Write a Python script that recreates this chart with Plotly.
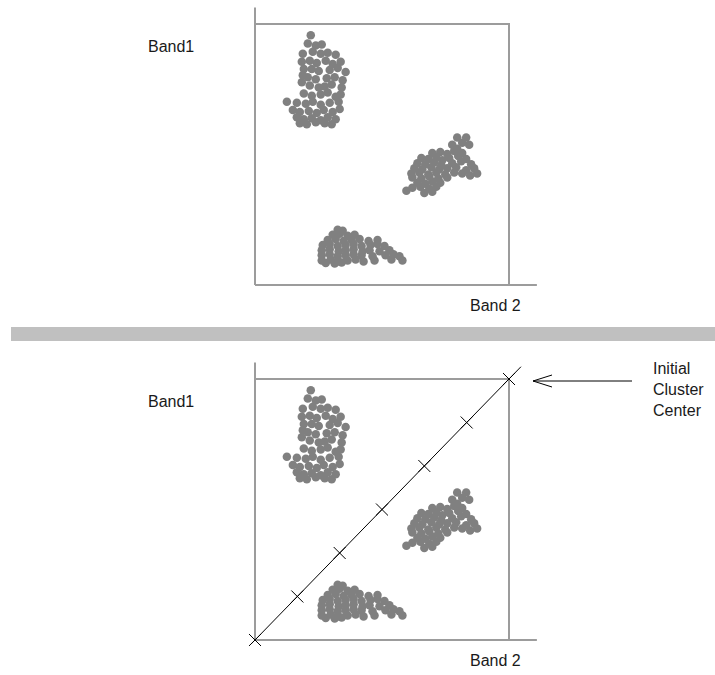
import plotly.graph_objects as go

# ---------------- data (Band 2 = x, Band1 = y, 0..255 scale) ----------------
cluster_a_band2 = [56, 53, 61, 67, 48, 47, 49, 48, 47, 58, 66, 73, 81, 55, 62, 71, 78, 86,
                   57, 64, 75, 83, 91, 53, 61, 72, 80, 88, 55, 64, 70, 77, 87,
                   49, 57, 66, 73, 81, 86, 32, 42, 51, 58, 66, 75, 84,
                   38, 45, 54, 62, 69, 78, 85, 42, 49, 57, 66, 73, 81, 45, 52, 61, 70, 77]
cluster_a_band1 = [244, 236, 234, 235, 226, 218, 211, 205, 198, 228, 226, 227, 225,
                   219, 217, 219, 216, 218, 211, 209, 210, 212, 208,
                   203, 201, 202, 203, 200, 195, 193, 194, 196, 193,
                   187, 185, 186, 188, 184, 186, 179, 178, 177, 179, 176, 178, 179,
                   171, 169, 170, 168, 171, 169, 172, 164, 162, 163, 161, 164, 162,
                   158, 157, 159, 158, 157]

cluster_b_band2 = [203, 212, 208, 215, 198, 203, 178, 186, 193, 200, 208,
                   167, 174, 182, 188, 195, 204, 212, 163, 171, 180, 187, 198, 207, 217,
                   160, 168, 177, 185, 193, 202, 212, 220,
                   157, 165, 174, 182, 191, 200, 208, 216, 223,
                   158, 167, 175, 184, 193, 163, 171, 178, 186, 158, 166, 175, 182,
                   152, 170, 178]
cluster_b_band1 = [144, 144, 139, 137, 137, 133, 129, 130, 128, 131, 129,
                   124, 123, 125, 122, 124, 126, 123, 119, 118, 120, 117, 119, 121, 118,
                   114, 113, 115, 113, 114, 115, 112, 114,
                   109, 110, 108, 110, 108, 110, 109, 107, 109,
                   105, 104, 106, 104, 105, 100, 99, 101, 100, 95, 96, 94, 96,
                   92, 90, 91]

cluster_c_band2 = [83, 88, 78, 85, 93, 100, 73, 81, 89, 97, 105, 114, 123,
                   68, 75, 83, 91, 99, 107, 116, 123, 130,
                   67, 75, 84, 91, 99, 108, 115, 125, 135,
                   67, 75, 83, 91, 99, 107, 118, 131, 139, 145,
                   67, 76, 83, 93, 101, 109, 120, 137, 148, 71, 80, 87]
cluster_c_band1 = [54, 53, 49, 50, 48, 49, 44, 45, 43, 44, 45, 43, 44,
                   39, 40, 38, 39, 40, 38, 39, 40, 38,
                   34, 35, 33, 34, 35, 33, 34, 33, 34,
                   29, 30, 28, 29, 30, 29, 28, 29, 30, 28,
                   24, 25, 23, 24, 25, 23, 24, 25, 24, 21.5, 21, 22]

# initial cluster centres placed evenly along the diagonal
initial_centers = [0, 42.5, 85, 127.5, 170, 212.5, 255]
diagonal_ends = [-4, 267]

axis_label_y = "Band1"
axis_label_x = "Band 2"
callout_text = "Initial<br>Cluster<br>Center"

# ---------------- layout helpers ----------------
W, H = 715, 675
X_RANGE = [-15, 290]
Y_RANGE = [-15, 275]
SX = 254 / 255.0
SY = 261 / 255.0
LEFT_PX = 255


def xdom():
    return [(LEFT_PX + X_RANGE[0] * SX) / W, (LEFT_PX + X_RANGE[1] * SX) / W]


def ydom(base):
    return [1 - (base - Y_RANGE[0] * SY) / H, 1 - (base - Y_RANGE[1] * SY) / H]


def px(x):
    return x / W


def py(y):
    return 1 - y / H


AXIS_COL = "#9c9c9c"
DOT_COL = "#808080"
FONT = "Liberation Sans, Arial, sans-serif"

fig = go.Figure()


def add_panel(xa, ya, with_centers):
    # axes and box
    fig.add_trace(go.Scatter(x=[0, 0], y=[0, 271], mode="lines",
                             line=dict(color=AXIS_COL, width=2), xaxis=xa, yaxis=ya, hoverinfo="skip"))
    fig.add_trace(go.Scatter(x=[0, 283], y=[0, 0], mode="lines",
                             line=dict(color=AXIS_COL, width=2), xaxis=xa, yaxis=ya, hoverinfo="skip"))
    fig.add_trace(go.Scatter(x=[0, 255, 255], y=[255, 255, 0], mode="lines",
                             line=dict(color=AXIS_COL, width=2), xaxis=xa, yaxis=ya, hoverinfo="skip"))
    for cx, cy in [(cluster_a_band2, cluster_a_band1),
                   (cluster_b_band2, cluster_b_band1),
                   (cluster_c_band2, cluster_c_band1)]:
        fig.add_trace(go.Scatter(x=cx, y=cy, mode="markers",
                                 marker=dict(size=8.5, color=DOT_COL, line=dict(width=0)),
                                 xaxis=xa, yaxis=ya))
    if with_centers:
        fig.add_trace(go.Scatter(x=diagonal_ends, y=diagonal_ends, mode="lines",
                                 line=dict(color="black", width=1), xaxis=xa, yaxis=ya, hoverinfo="skip"))
        fig.add_trace(go.Scatter(x=initial_centers, y=initial_centers, mode="markers",
                                 marker=dict(symbol="x-thin-open", size=12, color="black",
                                             line=dict(color="black", width=1)),
                                 cliponaxis=False, xaxis=xa, yaxis=ya))


add_panel("x", "y", False)
add_panel("x2", "y2", True)

ax_common = dict(visible=False, showgrid=False, zeroline=False, fixedrange=True)
fig.update_layout(
    width=W, height=H,
    margin=dict(l=0, r=0, t=0, b=0),
    paper_bgcolor="white", plot_bgcolor="white",
    showlegend=False,
    xaxis=dict(domain=xdom(), range=X_RANGE, anchor="y", **ax_common),
    yaxis=dict(domain=ydom(285), range=Y_RANGE, anchor="x", **ax_common),
    xaxis2=dict(domain=xdom(), range=X_RANGE, anchor="y2", **ax_common),
    yaxis2=dict(domain=ydom(640), range=Y_RANGE, anchor="x2", **ax_common),
)

# separator bar
fig.add_shape(type="rect", xref="paper", yref="paper",
              x0=px(11), x1=1.0, y0=py(341), y1=py(327),
              fillcolor="#c0c0c0", line=dict(width=0), layer="below")

# arrow pointing at the initial cluster centre
arrow_col = "black"
for (x0, y0, x1, y1) in [(632, 381, 533, 381), (533, 381, 552, 375), (533, 381, 552, 387)]:
    fig.add_shape(type="line", xref="paper", yref="paper",
                  x0=px(x0), y0=py(y0), x1=px(x1), y1=py(y1),
                  line=dict(color=arrow_col, width=1))

text_font = dict(family=FONT, size=16, color="#1a1a1a")
annots = [
    (146, 46, axis_label_y), (468, 305, axis_label_x),
    (146, 401, axis_label_y), (468, 660, axis_label_x),
]
for x, y, t in annots:
    fig.add_annotation(x=px(x), y=py(y), xref="paper", yref="paper", text=t,
                       showarrow=False, xanchor="left", yanchor="middle", font=text_font)
fig.add_annotation(x=px(651), y=py(389), xref="paper", yref="paper", text=callout_text,
                   showarrow=False, xanchor="left", yanchor="middle", align="left", font=text_font)

fig.write_html(
    "out.html",
    config={"displayModeBar": False, "staticPlot": True},
    post_script="document.body.style.margin='0px';document.body.style.overflow='hidden';",
)
